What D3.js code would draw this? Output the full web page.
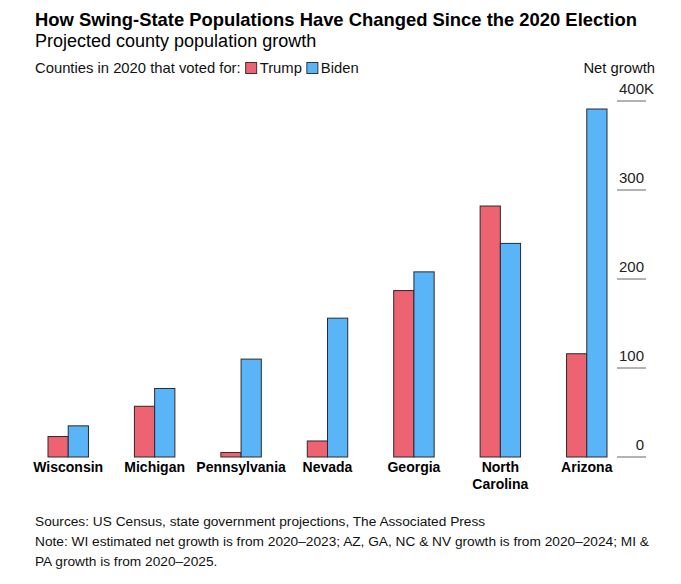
<!DOCTYPE html>
<html>
<head>
<meta charset="utf-8">
<script src="https://cdn.jsdelivr.net/npm/d3@7"></script>
<style>
  html, body { margin: 0; padding: 0; background: #fff; }
  svg { display: block; font-family: "Liberation Sans", Arial, Helvetica, sans-serif; }
</style>
</head>
<body>
<svg id="chart" width="681" height="584"></svg>
<script>
// ---- data ----
const states = ["Wisconsin", "Michigan", "Pennsylvania", "Nevada", "Georgia", "North Carolina", "Arizona"];
const stateLabels = [["Wisconsin"], ["Michigan"], ["Pennsylvania"], ["Nevada"], ["Georgia"], ["North", "Carolina"], ["Arizona"]];
const seriesNames = ["Trump", "Biden"];
const trumpGrowth = [23, 57, 5, 18, 187, 282, 116];
const bidenGrowth = [35, 77, 110, 156, 208, 240, 391];
const yTicks = [0, 100, 200, 300, 400];
const tickLabels = ["0", "100", "200", "300", "400"];
const colors = { Trump: "#ee6371", Biden: "#5ab5f8" };

const svg = d3.select("#chart");

// ---- scales ----
const x = d3.scaleBand().domain(states).range([48, 607]).paddingInner(0.532).paddingOuter(0);
const xi = d3.scaleBand().domain(seriesNames).range([0, x.bandwidth()]).padding(0);
const y = d3.scaleLinear().domain([0, 400]).range([457, 101]);

// ---- titles ----
svg.append("text").attr("x", 35).attr("y", 26)
  .attr("font-size", 18.4).attr("font-weight", "bold").attr("fill", "#000")
  .text("How Swing-State Populations Have Changed Since the 2020 Election");
svg.append("text").attr("x", 35).attr("y", 47)
  .attr("font-size", 18).attr("fill", "#000")
  .text("Projected county population growth");

// ---- legend ----
const lg = svg.append("g").attr("font-size", 14.8).attr("fill", "#111");
const lt = lg.append("text").attr("x", 35).attr("y", 73).text("Counties in 2020 that voted for:");
let lx = 35 + lt.node().getComputedTextLength() + 5;
seriesNames.forEach(s => {
  lg.append("rect").attr("x", lx).attr("y", 62.5).attr("width", 11).attr("height", 11)
    .attr("fill", colors[s]).attr("stroke", "#333").attr("stroke-width", 1);
  const t = lg.append("text").attr("x", lx + 14).attr("y", 73).text(s);
  lx += 14 + t.node().getComputedTextLength() + 5;
});
svg.append("text").attr("x", 655).attr("y", 73).attr("text-anchor", "end")
  .attr("font-size", 14.8).attr("fill", "#111").text("Net growth");

// ---- y axis (right) ----
const ax = svg.append("g");
yTicks.forEach((v, i) => {
  ax.append("line").attr("x1", 617).attr("x2", 646)
    .attr("y1", y(v)).attr("y2", y(v)).attr("stroke", "#666").attr("stroke-width", 1);
  ax.append("text").attr("x", 644).attr("y", y(v) - 7.5).attr("text-anchor", "end")
    .attr("font-size", 15).attr("fill", "#222").text(tickLabels[i]);
  if (i === yTicks.length - 1) {
    ax.append("text").attr("x", 644).attr("y", y(v) - 7.5)
      .attr("font-size", 15).attr("fill", "#222").text("K");
  }
});

// ---- bars ----
const rows = states.map((s, i) => ({ state: s, Trump: trumpGrowth[i], Biden: bidenGrowth[i] }));
const groups = svg.append("g").selectAll("g").data(rows).join("g")
  .attr("transform", d => `translate(${x(d.state)},0)`);
groups.selectAll("rect").data(d => seriesNames.map(k => ({ key: k, value: d[k] }))).join("rect")
  .attr("x", d => xi(d.key))
  .attr("y", d => y(d.value))
  .attr("width", xi.bandwidth())
  .attr("height", d => y(0) - y(d.value))
  .attr("fill", d => colors[d.key])
  .attr("stroke", "#2a2a2a").attr("stroke-width", 1);

// ---- x labels ----
const xl = svg.append("g");
states.forEach((s, i) => {
  const t = xl.append("text").attr("x", x(s) + x.bandwidth() / 2).attr("y", 472)
    .attr("text-anchor", "middle").attr("font-size", 14).attr("font-weight", "bold").attr("fill", "#000");
  stateLabels[i].forEach((line, j) => {
    t.append("tspan").attr("x", x(s) + x.bandwidth() / 2).attr("dy", j === 0 ? 0 : 17).text(line);
  });
});

// ---- footer ----
const ft = svg.append("g").attr("font-size", 13.7).attr("fill", "#111");
ft.append("text").attr("x", 35).attr("y", 526)
  .text("Sources: US Census, state government projections, The Associated Press");
ft.append("text").attr("x", 35).attr("y", 546)
  .text("Note: WI estimated net growth is from 2020\u20132023; AZ, GA, NC & NV growth is from 2020\u20132024; MI &");
ft.append("text").attr("x", 35).attr("y", 566)
  .text("PA growth is from 2020\u20132025.");
</script>
</body>
</html>
